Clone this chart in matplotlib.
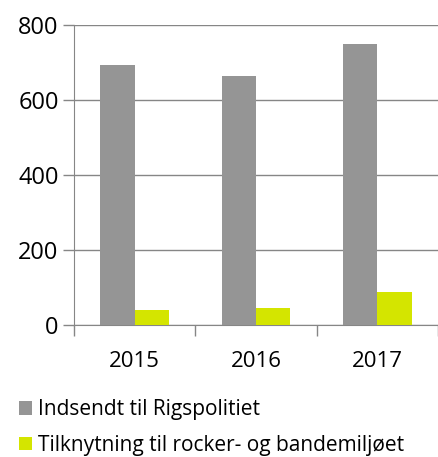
import numpy as np
import matplotlib.pyplot as plt

years = ['2015', '2016', '2017']
indsendt = [693, 665, 750]
tilknytning = [40, 45, 89]
labels = ['Indsendt til Rigspolitiet', 'Tilknytning til rocker- og bandemiljøet']
colors = ['#959595', '#d4e500']

plt.rcParams['font.family'] = ['Open Sans', 'DejaVu Sans']

fig = plt.figure(figsize=(4.39, 4.57), dpi=100)
ax = fig.add_axes([74 / 439, 132 / 457, 364 / 439, 300 / 457])

x = np.arange(len(years))
w = 0.284
b1 = ax.bar(x - w / 2, indsendt, w, color=colors[0], zorder=3)
b2 = ax.bar(x + w / 2, tilknytning, w, color=colors[1], zorder=3)

ax.set_xlim(-0.5, 2.5)
ax.set_ylim(0, 800)
ax.set_yticks([0, 200, 400, 600, 800])
ax.set_xticks(x)
ax.set_xticklabels(years)
ax.set_xticks([-0.5, 0.5, 1.5, 2.5], minor=True)
ax.tick_params(axis='x', which='major', length=0, pad=19, labelsize=16)
ax.tick_params(axis='x', which='minor', length=8, color='#868686', width=1)
ax.tick_params(axis='y', length=8, color='#868686', width=1, labelsize=17, pad=3)
ax.yaxis.grid(True, color='#868686', linewidth=1, zorder=0)
for s in ['top', 'right']:
    ax.spines[s].set_visible(False)
for s in ['left', 'bottom']:
    ax.spines[s].set_color('#868686')

fig.legend([b1, b2], labels, loc='lower left', bbox_to_anchor=(0.025, -0.016),
           frameon=False, fontsize=15, handlelength=0.6, handleheight=0.6,
           handletextpad=0.3, labelspacing=0.7, borderaxespad=0)

fig.savefig('out.png', dpi=100)
